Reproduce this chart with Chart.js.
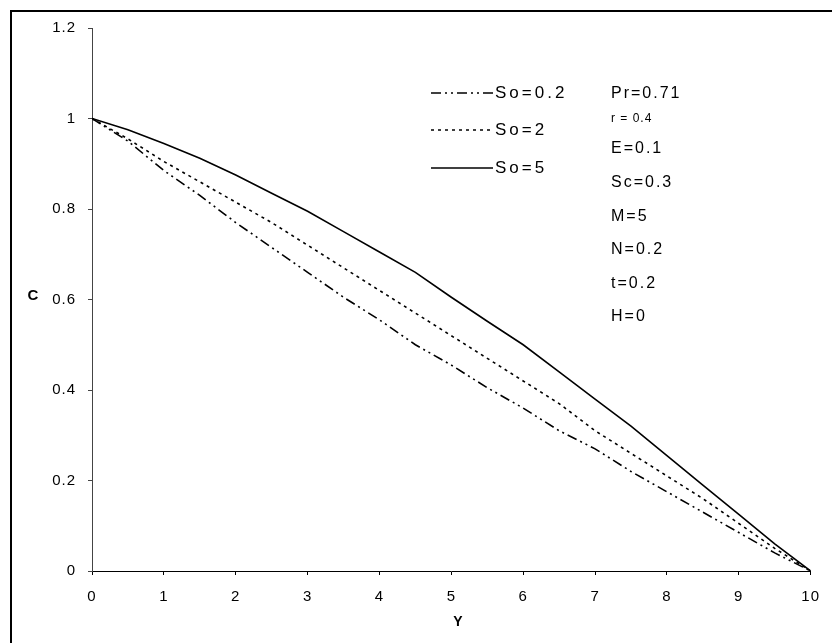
<!DOCTYPE html>
<html>
<head>
<meta charset="utf-8">
<script src="https://cdn.jsdelivr.net/npm/chart.js@4"></script>
<style>
html,body{margin:0;padding:0;background:#fff;}
#wrap{width:832px;height:643px;position:relative;}
</style>
</head>
<body>
<div id="wrap"><canvas id="c" width="832" height="643"></canvas></div>
<script>
const yValues = [0, 0.5, 1, 1.5, 2, 2.5, 3, 3.5, 4, 4.5, 5, 5.5, 6, 6.5, 7, 7.5, 8, 8.5, 9, 9.5, 10];
const cSo02 = [1.0, 0.95, 0.885, 0.83, 0.77, 0.715, 0.66, 0.605, 0.555, 0.5, 0.455, 0.405, 0.36, 0.31, 0.27, 0.22, 0.175, 0.13, 0.085, 0.04, 0];
const cSo2  = [1.0, 0.955, 0.905, 0.86, 0.815, 0.77, 0.72, 0.67, 0.62, 0.57, 0.52, 0.47, 0.42, 0.37, 0.31, 0.26, 0.21, 0.16, 0.105, 0.05, 0];
const cSo5  = [1.0, 0.975, 0.945, 0.912, 0.875, 0.835, 0.795, 0.75, 0.705, 0.66, 0.605, 0.552, 0.5, 0.44, 0.38, 0.32, 0.255, 0.19, 0.125, 0.06, 0];
const seriesLabels = ["So=0.2", "So=2", "So=5"];
const xTickLabels = ["0","1","2","3","4","5","6","7","8","9","10"];
const yTickLabels = ["0","0.2","0.4","0.6","0.8","1","1.2"];
const paramLines = ["Pr=0.71", "r = 0.4", "E=0.1", "Sc=0.3", "M=5", "N=0.2", "t=0.2", "H=0"];

const dashes = [[10,4,2,4,2,4],[3,4],[]];
const series = [cSo02, cSo2, cSo5];

const datasets = series.map((s, i) => ({
  label: seriesLabels[i],
  data: yValues.map((x, k) => ({x: x, y: s[k]})),
  borderColor: '#000',
  borderWidth: 1.6,
  borderDash: dashes[i],
  pointRadius: 0,
  tension: 0,
  fill: false
}));

const FONT = "'Liberation Sans', Arial, sans-serif";

const spacing = {
  id: 'spacing',
  beforeDraw(chart) {
    if ('letterSpacing' in chart.ctx) chart.ctx.letterSpacing = '1px';
  }
};

const decor = {
  id: 'decor',
  afterDraw(chart) {
    const ctx = chart.ctx;
    ctx.save();
    // outer frame (left and top edges visible)
    ctx.strokeStyle = '#000';
    ctx.lineWidth = 2;
    ctx.beginPath();
    ctx.moveTo(11, 643);
    ctx.lineTo(11, 11);
    ctx.lineTo(832, 11);
    ctx.stroke();
    // legend
    const ly = [93, 130, 168];
    chart.data.datasets.forEach((ds, i) => {
      ctx.beginPath();
      ctx.setLineDash(ds.borderDash);
      ctx.lineWidth = 1.6;
      ctx.moveTo(431, ly[i]);
      ctx.lineTo(493, ly[i]);
      ctx.stroke();
      ctx.setLineDash([]);
      ctx.fillStyle = '#000';
      ctx.font = '17px ' + FONT;
      if ('letterSpacing' in ctx) ctx.letterSpacing = '3px';
      ctx.textAlign = 'left';
      ctx.textBaseline = 'middle';
      ctx.fillText(ds.label, 495, ly[i]);
    });
    // parameter annotations
    const py = [94, 119, 149, 183, 217, 250, 284, 317];
    paramLines.forEach((t, i) => {
      ctx.font = (i === 1 ? '12px ' : '16px ') + FONT;
      if ('letterSpacing' in ctx) ctx.letterSpacing = (i === 1 ? '1px' : '2px');
      ctx.textAlign = 'left';
      ctx.textBaseline = 'middle';
      ctx.fillText(t, 611, py[i]);
    });
    // axis titles
    if ('letterSpacing' in ctx) ctx.letterSpacing = '0px';
    ctx.font = 'bold 15px ' + FONT;
    ctx.textAlign = 'center';
    ctx.fillText('C', 33, 296);
    ctx.font = 'bold 14px ' + FONT;
    ctx.fillText('Y', 458, 622);
    ctx.restore();
  }
};

new Chart(document.getElementById('c'), {
  type: 'line',
  data: { datasets },
  options: {
    responsive: false,
    animation: false,
    devicePixelRatio: 1,
    layout: { padding: { left: 0, right: 8, top: 28, bottom: 0 } },
    plugins: { legend: { display: false }, tooltip: { enabled: false } },
    scales: {
      x: {
        type: 'linear',
        min: 0, max: 10,
        ticks: {
          stepSize: 1,
          color: '#000',
          font: { family: FONT, size: 15 },
          padding: 13,
          maxRotation: 0,
          callback: (v) => xTickLabels[Math.round(v)]
        },
        grid: { display: true, drawOnChartArea: false, drawTicks: true, tickLength: 4, color: '#000' },
        border: { display: true, color: '#000', width: 1 },
        afterFit: (s) => { s.height = 72; }
      },
      y: {
        min: 0, max: 1.2,
        ticks: {
          stepSize: 0.2,
          color: '#000',
          font: { family: FONT, size: 15 },
          padding: 12,
          crossAlign: 'near',
          callback: (v) => yTickLabels[Math.round(v / 0.2)]
        },
        grid: { display: true, drawOnChartArea: false, drawTicks: true, tickLength: 4, color: '#444' },
        border: { display: true, color: '#444', width: 1 },
        afterFit: (s) => { s.width = 92; }
      }
    }
  },
  plugins: [spacing, decor]
});
</script>
</body>
</html>
